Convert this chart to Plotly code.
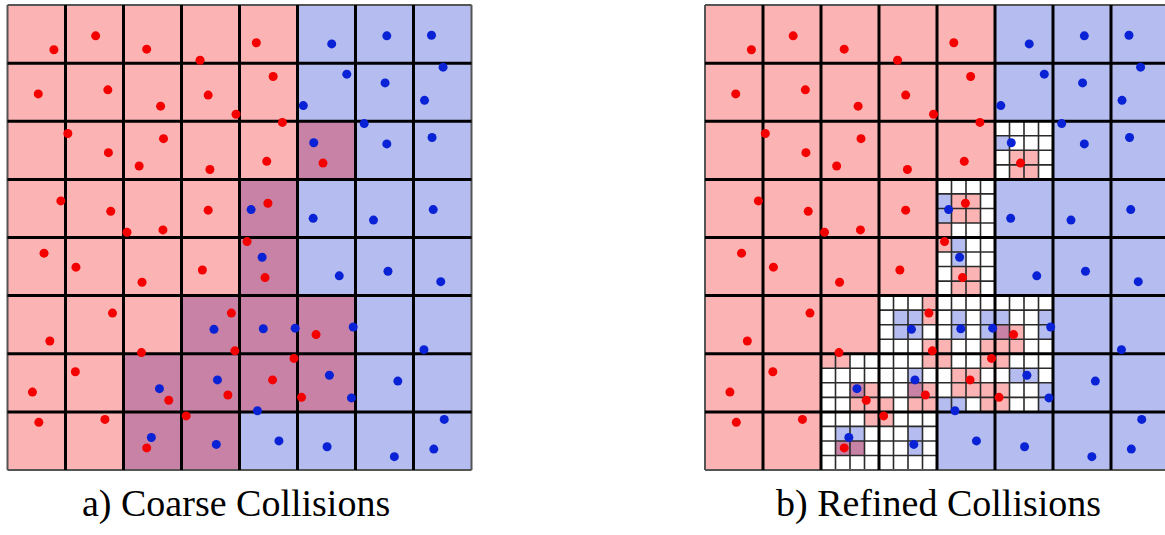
import plotly.graph_objects as go

W, H = 1165, 535

# ---- data ---------------------------------------------------------------
# coarse 8x8 grid, rows from top: R = red only, B = blue only, P = collision
coarse_rows = [
    "RRRRRBBB",
    "RRRRRBBB",
    "RRRRRPBB",
    "RRRRPBBB",
    "RRRRPBBB",
    "RRRPPPBB",
    "RRPPPPBB",
    "RRPPBBBB",
]

# refined (collision) cells: (row, col) and their 4x4 sub-cell states (W = empty)
refined_cells = [(2, 5), (3, 4), (4, 4), (5, 3), (5, 4), (5, 5),
                 (6, 2), (6, 3), (6, 4), (6, 5), (7, 2), (7, 3)]
refined_patterns = [
    ["WWWW", "BWWW", "WRRW", "WRRW"],
    ["WWWW", "BRRW", "BRRW", "RWWW"],
    ["RBWW", "WBWW", "WRRW", "WRRW"],
    ["WWWR", "WBBR", "WBBW", "WWWR"],
    ["WWWW", "WBWB", "WBWB", "RWWR"],
    ["WWWW", "BWWB", "PRWB", "RRWW"],
    ["RRWW", "WWWW", "WWPR", "WWRR"],
    ["WWWR", "WWBW", "WWPR", "RWRR"],
    ["RWWR", "WRRW", "WRRR", "BBWR"],
    ["RWWW", "WBBW", "RWWB", "RWWB"],
    ["WWWR", "WBBW", "WPPW", "WWWW"],
    ["RWWW", "WWBW", "WWBW", "WWWW"],
]

# particle positions in cell units (x from left, y from top)
red_x = [0.80, 1.52, 2.40, 3.32, 4.29, 0.53, 1.73, 2.64, 3.46, 3.94, 4.58,
         1.04, 1.74, 2.69, 2.27, 3.49, 4.74, 4.47, 5.44, 0.92, 1.78, 3.46,
         2.06, 2.68, 4.49, 4.13, 0.63, 1.18, 2.32, 3.36, 4.44, 0.73, 1.81,
         2.31, 3.86, 3.92, 5.32, 4.94, 0.43, 1.17, 2.78, 3.80, 4.57, 5.07,
         0.54, 1.68, 2.40, 3.08]
red_y = [0.77, 0.53, 0.76, 0.95, 0.65, 1.53, 1.46, 1.74, 1.55, 1.88, 1.23,
         2.21, 2.54, 2.30, 2.77, 2.83, 2.02, 2.69, 2.72, 3.37, 3.55, 3.53,
         3.91, 3.87, 3.41, 4.07, 4.27, 4.51, 4.77, 4.56, 4.69, 5.78, 5.30,
         5.98, 5.30, 5.95, 5.67, 6.08, 6.66, 6.31, 6.80, 6.71, 6.45, 6.75,
         7.18, 7.13, 7.62, 7.07]
blue_x = [5.59, 6.54, 7.31, 5.85, 6.51, 7.51, 5.10, 7.19, 6.15, 5.28, 6.54,
          7.32, 4.20, 5.27, 6.31, 7.34, 4.39, 5.72, 6.56, 7.47, 3.56, 4.41,
          4.96, 5.96, 7.18, 2.62, 3.62, 5.55, 5.93, 6.73, 4.31, 2.48, 3.60,
          4.68, 5.51, 6.67, 7.53, 7.35]
blue_y = [0.67, 0.53, 0.52, 1.19, 1.34, 1.07, 1.73, 1.64, 2.04, 2.37, 2.39,
          2.28, 3.52, 3.67, 3.70, 3.52, 4.34, 4.66, 4.58, 4.76, 5.58, 5.57,
          5.56, 5.54, 5.93, 6.60, 6.45, 6.37, 6.76, 6.47, 6.98, 7.44, 7.56,
          7.50, 7.60, 7.77, 7.13, 7.64]

titles = ["a) Coarse Collisions", "b) Refined Collisions"]

# ---- styles -------------------------------------------------------------
RED_FILL = "#fcb3b3"
BLUE_FILL = "#b4bcf0"
PURPLE_FILL = "#c882a6"
RED_DOT = "#f40000"
BLUE_DOT = "#0a22d6"

CODE = {"W": 0, "R": 1, "B": 2, "P": 3}
colorscale = [
    [0.0, "#ffffff"], [1 / 6, "#ffffff"],
    [1 / 6, RED_FILL], [0.5, RED_FILL],
    [0.5, BLUE_FILL], [5 / 6, BLUE_FILL],
    [5 / 6, PURPLE_FILL], [1.0, PURPLE_FILL],
]

N = len(coarse_rows)
z_coarse = [[CODE[ch] for ch in row] for row in coarse_rows]
z_fine = [[CODE[coarse_rows[i // 4][j // 4]] for j in range(4 * N)] for i in range(4 * N)]
for (r, c), pat in zip(refined_cells, refined_patterns):
    for a in range(4):
        for b in range(4):
            z_fine[4 * r + a][4 * c + b] = CODE[pat[a][b]]


def segs(lines):
    xs, ys = [], []
    for (x0, y0, x1, y1) in lines:
        xs += [x0, x1, None]
        ys += [y0, y1, None]
    return xs, ys


coarse_lines = []
for k in range(1, N):
    coarse_lines.append((k, 0, k, N))
    coarse_lines.append((0, k, N, k))
border_lines = [(0, 0, N, 0), (N, 0, N, N), (N, N, 0, N), (0, N, 0, 0)]
fine_lines = []
for (r, c) in refined_cells:
    for k in (0.25, 0.5, 0.75):
        fine_lines.append((c + k, r, c + k, r + 1))
        fine_lines.append((c, r + k, c + 1, r + k))

fig = go.Figure()

for panel, (xa, ya) in enumerate([("x", "y"), ("x2", "y2")]):
    if panel == 0:
        fig.add_trace(go.Heatmap(
            z=z_coarse, x=[i + 0.5 for i in range(N)], y=[i + 0.5 for i in range(N)],
            colorscale=colorscale, zmin=0, zmax=3, showscale=False, hoverinfo="skip",
            xaxis=xa, yaxis=ya))
    else:
        fig.add_trace(go.Heatmap(
            z=z_fine, x=[(i + 0.5) / 4 for i in range(4 * N)], y=[(i + 0.5) / 4 for i in range(4 * N)],
            colorscale=colorscale, zmin=0, zmax=3, showscale=False, hoverinfo="skip",
            xaxis=xa, yaxis=ya))
        fx, fy = segs(fine_lines)
        fig.add_trace(go.Scatter(x=fx, y=fy, mode="lines", line=dict(color="#2a2a2a", width=1.6),
                                 hoverinfo="skip", showlegend=False, xaxis=xa, yaxis=ya))
    bx, by = segs(border_lines)
    fig.add_trace(go.Scatter(x=bx, y=by, mode="lines", line=dict(color="#555555", width=2),
                             hoverinfo="skip", showlegend=False, xaxis=xa, yaxis=ya))
    cx, cy = segs(coarse_lines)
    fig.add_trace(go.Scatter(x=cx, y=cy, mode="lines", line=dict(color="#000000", width=3),
                             hoverinfo="skip", showlegend=False, xaxis=xa, yaxis=ya))
    fig.add_trace(go.Scatter(x=red_x, y=red_y, mode="markers",
                             marker=dict(color=RED_DOT, size=9, line=dict(width=0)),
                             showlegend=False, xaxis=xa, yaxis=ya))
    fig.add_trace(go.Scatter(x=blue_x, y=blue_y, mode="markers",
                             marker=dict(color=BLUE_DOT, size=9, line=dict(width=0)),
                             showlegend=False, xaxis=xa, yaxis=ya))

# pixel geometry of the panels
px_unit = 58.0
py_unit = 58.125
pad_x, pad_y = 0.1, 0.08
left_x0 = 7.5
right_x0 = 705.0
top_y0 = 5.0

ydom = [1 - (top_y0 + (N + pad_y) * py_unit) / H, 1 - (top_y0 - pad_y * py_unit) / H]
axis_common = dict(visible=False, showgrid=False, zeroline=False, fixedrange=True)

fig.update_layout(
    width=W, height=H,
    margin=dict(l=0, r=0, t=0, b=0),
    paper_bgcolor="white", plot_bgcolor="white",
    showlegend=False,
    xaxis=dict(domain=[(left_x0 - pad_x * px_unit) / W, (left_x0 + (N + pad_x) * px_unit) / W],
               range=[-pad_x, N + pad_x], anchor="y", **axis_common),
    yaxis=dict(domain=ydom, range=[N + pad_y, -pad_y], anchor="x", **axis_common),
    xaxis2=dict(domain=[(right_x0 - pad_x * px_unit) / W, 1.0],
                range=[-pad_x, (W - right_x0) / px_unit], anchor="y2", **axis_common),
    yaxis2=dict(domain=ydom, range=[N + pad_y, -pad_y], anchor="x2", **axis_common),
)

title_y = 1 - 503 / H
for xc, t in zip([236 / W, 938 / W], titles):
    fig.add_annotation(text=t, x=xc, y=title_y, xref="paper", yref="paper",
                       xanchor="center", yanchor="middle", showarrow=False,
                       font=dict(family="Liberation Serif", size=38, color="black"))

fig.write_html(
    "out.html",
    config={"displayModeBar": False},
    post_script="document.body.style.margin='0';document.body.style.overflow='hidden';",
)
